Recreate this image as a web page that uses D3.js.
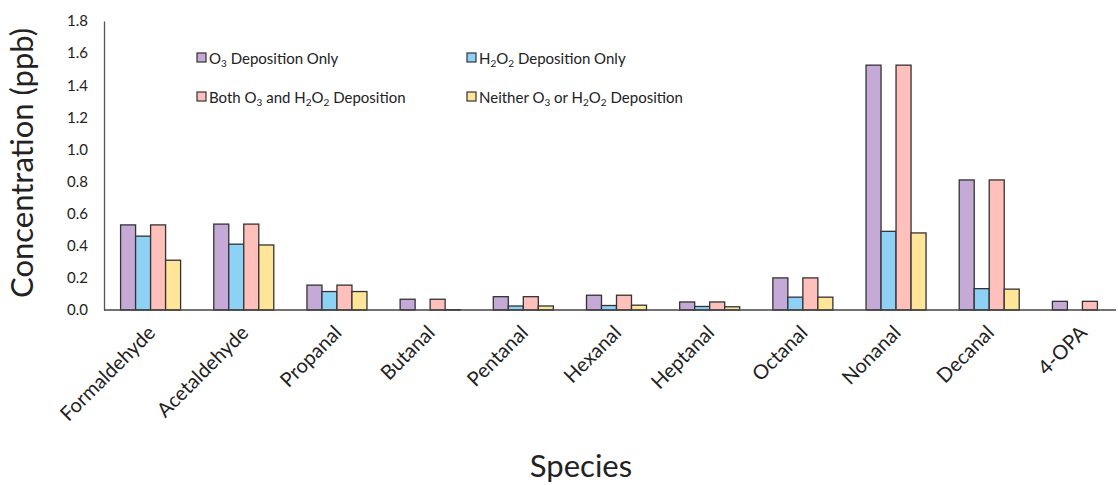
<!DOCTYPE html>
<html><head><meta charset="utf-8">
<script src="https://cdn.jsdelivr.net/npm/d3@7"></script>
<style>body{margin:0;background:#fff}svg{display:block}text{font-family:Lato,"Open Sans",sans-serif;fill:#222}</style>
</head><body><svg id="c" width="1118" height="485"></svg>
<script>
const categories=["Formaldehyde","Acetaldehyde","Propanal","Butanal","Pentanal","Hexanal","Heptanal","Octanal","Nonanal","Decanal","4-OPA"];
const o3Only=[0.53,0.535,0.155,0.067,0.083,0.092,0.05,0.2,1.525,0.81,0.054];
const h2o2Only=[0.46,0.41,0.115,0.0,0.025,0.028,0.022,0.08,0.49,0.133,0.0];
const both=[0.53,0.535,0.155,0.067,0.083,0.092,0.05,0.2,1.525,0.81,0.054];
const neither=[0.31,0.405,0.115,0.002,0.025,0.03,0.02,0.08,0.48,0.13,0.0];
const yTicks=[0,0.2,0.4,0.6,0.8,1.0,1.2,1.4,1.6,1.8];
const seriesNames=["O3","H2O2","Both","Neither"];
const colors=["#C5A9D6","#8DD1F5","#FFC0BC","#FFE598"];
const seriesVals=[o3Only,h2o2Only,both,neither];

const svg=d3.select("#c");
const mLeft=104,mRight=1129,axisEnd=1116,mTop=21,mBottom=310;
const x=d3.scaleBand().domain(categories).range([mLeft,mRight]).paddingInner(0.356).paddingOuter(0.178);
const xs=d3.scaleBand().domain(seriesNames).range([0,x.bandwidth()]);
const y=d3.scaleLinear().domain([0,1.8]).range([mBottom,mTop]);

seriesNames.forEach((s,si)=>{
  svg.append("g").selectAll("rect").data(categories).join("rect")
    .attr("x",d=>x(d)+xs(s))
    .attr("y",(d,i)=>y(seriesVals[si][i]))
    .attr("width",xs.bandwidth())
    .attr("height",(d,i)=>mBottom-y(seriesVals[si][i]))
    .attr("fill",colors[si]).attr("stroke","#333").attr("stroke-width",1.3);
});

const ya=svg.append("g").attr("transform",`translate(${mLeft},0)`)
  .call(d3.axisLeft(y).tickValues(yTicks).tickFormat(d3.format(".1f")).tickSize(0).tickPadding(16));
ya.select(".domain").attr("stroke","#555").attr("stroke-width",1.3);
ya.selectAll("text").style("font-size","15px").attr("fill","#333");

const xa=svg.append("g").attr("transform",`translate(0,${mBottom})`)
  .call(d3.axisBottom(x).tickSize(0).tickPadding(0));
xa.select(".domain").remove();
xa.append("line").attr("x1",mLeft).attr("x2",axisEnd).attr("stroke","#444").attr("stroke-width",1.3);
xa.selectAll("text").style("font-size","20px").attr("fill","#222")
  .attr("text-anchor","end").attr("dy",null).attr("y",null)
  .attr("transform","translate(6,24) rotate(-45)");

svg.append("text").attr("transform","translate(33,163) rotate(-90)").attr("text-anchor","middle")
  .style("font-size","31px").text("Concentration (ppb)");
svg.append("text").attr("x",581).attr("y",477).attr("text-anchor","middle")
  .style("font-size","31px").text("Species");

const legend=[
  {x:197,y:58,parts:[["O"],["3",1],[" Deposition Only"]]},
  {x:467,y:58,parts:[["H"],["2",1],["O"],["2",1],[" Deposition Only"]]},
  {x:197,y:97,parts:[["Both O"],["3",1],[" and H"],["2",1],["O"],["2",1],[" Deposition"]]},
  {x:467,y:97,parts:[["Neither O"],["3",1],[" or H"],["2",1],["O"],["2",1],[" Deposition"]]}
];
legend.forEach((l,i)=>{
  svg.append("rect").attr("x",l.x).attr("y",l.y-5).attr("width",9).attr("height",9)
    .attr("fill",colors[i]).attr("stroke","#333").attr("stroke-width",1.2);
  const t=svg.append("text").attr("x",l.x+12).attr("y",l.y+5.5).style("font-size","15px");
  let prevSub=false;
  l.parts.forEach(p=>{
    const isSub=!!p[1];
    const ts=t.append("tspan").text(p[0]);
    if(isSub) ts.style("font-size","10px");
    if(isSub&&!prevSub) ts.attr("dy",3);
    if(!isSub&&prevSub) ts.attr("dy",-3);
    prevSub=isSub;
  });
});
</script></body></html>
